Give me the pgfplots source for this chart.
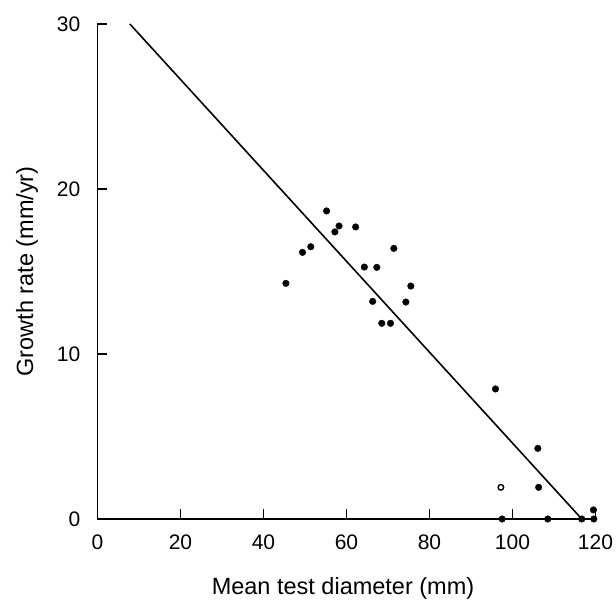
\documentclass[border=0pt]{standalone}
\usepackage{pgfplots}
\pgfplotsset{compat=1.18}
\usepackage{fontspec}
\setmainfont{Liberation Sans}
\begin{document}
\begin{tikzpicture}
\begin{axis}[
  scale only axis, width=498pt, height=495pt,
  xmin=0, xmax=120, ymin=0, ymax=30,
  axis lines*=left,
  axis line style={line width=1.6pt},
  tick align=inside,
  major tick length=10pt,
  tick style={line width=1.4pt, black},
  xtick={0,20,40,60,80,100,120},
  ytick={0,10,20,30},
  /pgf/number format/assume math mode=true,
  tick label style={font=\fontsize{21}{25}\selectfont},
  yticklabel style={inner sep=0pt, xshift=-17pt},
  xticklabel style={inner sep=0pt, yshift=-16pt},
  every axis x label/.style={at={(axis description cs:0.493,-0.1535)}, anchor=base, font=\fontsize{23.5}{28}\selectfont},
  every axis y label/.style={at={(axis description cs:-0.1295,0.5)}, rotate=90, anchor=base, font=\fontsize{23.5}{28}\selectfont},
  xlabel={Mean test diameter (mm)},
  ylabel={Growth rate (mm/yr)},
  clip=false,
]
\addplot[only marks, mark=*, mark size=3.3pt, black] coordinates {
(55.2,18.67) (58.2,17.76) (57.2,17.4) (62.2,17.7) (51.4,16.5) (49.4,16.16)
(71.4,16.4) (45.4,14.28) (64.3,15.27) (67.3,15.25) (75.5,14.12) (66.3,13.19)
(74.3,13.15) (68.5,11.86) (70.6,11.86)
(95.9,7.88) (106.1,4.28) (106.3,1.92)
(97.5,0) (108.5,0) (116.7,0) (119.5,0.55) (119.6,0)
};
\addplot[only marks, mark=o, mark size=2.8pt, mark options={line width=1.4pt}, black] coordinates {(97.2,1.92)};
\addplot[line width=1.6pt, black] coordinates {(7.8,30) (116.7,0)};
\end{axis}
\pgfresetboundingbox
\useasboundingbox (-97.5pt,-81pt) rectangle (518.5pt,519pt);
\end{tikzpicture}
\end{document}
